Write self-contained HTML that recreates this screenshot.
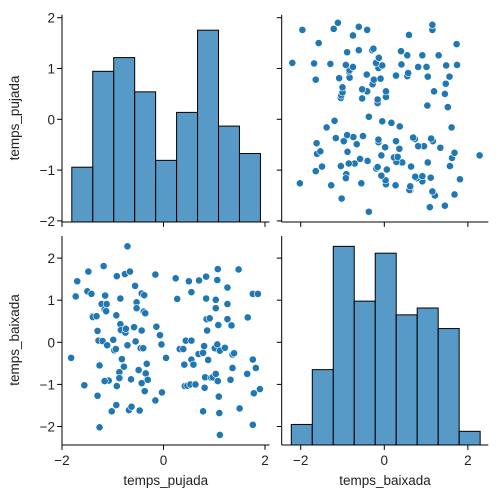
<!DOCTYPE html>
<html><head><meta charset="utf-8"><style>
body{margin:0;background:#fff}
svg{display:block;font-family:"Liberation Sans","DejaVu Sans",sans-serif}
</style></head><body>
<svg id="chart" width="500" height="500" viewBox="0 0 500 500" xmlns="http://www.w3.org/2000/svg"></svg>
<script>
// Data: pairs (temps_pujada, temps_baixada)
const pujada = [-1.82,-1.73,-1.70,-1.56,-1.48,-1.50,-1.42,-1.40,-1.39,-1.32,-1.30,-1.28,-1.26,-1.30,-1.26,-1.22,-1.20,-1.18,-1.15,-1.16,-1.13,-1.11,-1.12,-1.08,-1.16,-1.02,-0.99,-0.97,-0.93,-0.92,-0.92,-0.93,-0.94,-0.85,-0.85,-0.87,-0.87,-0.84,-0.82,-0.78,-0.76,-0.75,-0.74,-0.71,-0.71,-0.66,-0.68,-0.64,-0.63,-0.58,-0.56,-0.55,-0.53,-0.53,-0.47,-0.45,-0.49,-0.43,-0.43,-0.43,-0.38,-0.39,-0.40,-0.36,-0.37,-0.33,-0.35,-0.31,-0.16,-0.16,-0.14,-0.07,-0.04,-0.03,0.05,
0.24,0.27,0.32,0.39,0.41,0.42,0.44,0.47,0.50,0.53,0.55,0.55,0.55,0.59,0.63,0.70,0.69,0.78,0.80,0.82,0.78,0.81,0.84,0.84,0.85,0.86,0.88,0.91,0.94,0.97,1.03,1.03,1.01,1.06,1.06,1.03,1.07,1.07,1.08,1.09,1.10,1.11,1.11,1.21,1.26,1.26,1.26,1.32,1.34,1.36,1.36,1.39,1.48,1.50,1.65,1.66,1.76,1.76,1.76,1.78,1.82,1.86,1.90];
const baixada = [-0.37,1.09,1.45,-1.02,1.68,1.21,1.15,0.62,0.60,0.62,0.27,0.04,-0.55,-1.27,-2.02,0.91,0.03,1.81,1.11,0.78,0.74,-0.07,0.91,-0.91,-0.92,-1.64,0.06,-0.19,0.64,-1.04,1.57,-1.49,-0.16,1.04,0.43,-0.71,-0.85,0.29,-0.40,-0.58,1.62,0.23,0.32,-0.07,2.28,1.68,-1.61,-0.88,-1.53,0.36,1.34,0.02,0.95,0.81,-1.62,-0.14,-0.66,0.28,1.16,-0.97,1.12,0.73,-0.14,0.69,-1.16,-0.51,-0.74,-0.89,1.61,-1.38,0.37,0.17,-0.05,-1.19,-0.37,
1.52,1.03,-0.16,-0.16,-0.53,-1.04,0.04,-1.03,1.45,-1.00,1.19,-0.41,0.04,-0.53,-1.00,1.47,-0.28,-0.25,-0.09,-0.83,-1.64,-1.08,1.56,1.04,0.55,0.28,-0.42,0.57,-0.84,-0.83,1.01,0.81,-0.14,-0.05,1.48,-0.75,1.74,-0.92,0.41,-1.29,-1.68,-0.20,-2.20,-0.13,1.30,0.91,0.55,-0.89,0.40,-0.61,-0.29,-0.26,1.73,-1.57,-0.75,0.59,1.15,-0.41,-1.96,-1.21,-0.61,1.15,-1.11];
const pujadaCounts = [8,22,24,19,9,16,28,14,10];
const pujadaBinStart = -1.807, pujadaBinWidth = 0.413;
const baixadaCounts = [3,11,29,21,28,19,20,17,2];
const baixadaBinStart = -2.225, baixadaBinWidth = 0.502;
const pujadaTicks = [-2,-1,0,1,2];
const baixadaTicks = [-2,-1,0,1,2];
const xTicks = [-2,0,2];

const svg = document.getElementById('chart');
const NS = 'http://www.w3.org/2000/svg';
function mk(tag, attrs, parent){const e=document.createElementNS(NS,tag);for(const k in attrs)e.setAttribute(k,attrs[k]);(parent||svg).appendChild(e);return e;}

const xP = v => 163.5 + 50.75*v;
const yP = v => 119.3 - 50.8*v;
const xB = v => 384.3 + 41.8*v;
const yB = v => 342.3 - 42.1*v;
const cTop = c => 222 - 6.85*c;
const cBot = c => 445 - 6.85*c;

const L1=62,R1=269.5,L2=281.7,R2=488.3,T1=14.7,B1=222,T2=236,B2=445;

pujadaCounts.forEach((c,i)=>{
  const x0=xP(pujadaBinStart+i*pujadaBinWidth), x1=xP(pujadaBinStart+(i+1)*pujadaBinWidth);
  const r=mk('rect',{x:x0,y:cTop(c),width:x1-x0,height:B1-cTop(c),fill:'rgba(31,119,180,0.75)',stroke:'#000','stroke-width':1});
  
  
});
baixadaCounts.forEach((c,i)=>{
  const x0=xB(baixadaBinStart+i*baixadaBinWidth), x1=xB(baixadaBinStart+(i+1)*baixadaBinWidth);
  const r=mk('rect',{x:x0,y:cBot(c),width:x1-x0,height:B2-cBot(c),fill:'rgba(31,119,180,0.75)',stroke:'#000','stroke-width':1});
  
  
});

pujada.forEach((p,i)=>{
  const b=baixada[i];
  const c1=mk('circle',{cx:xB(b),cy:yP(p),r:3.6,fill:'#1f77b4',stroke:'#fff','stroke-width':0.6});
  
  
  const c2=mk('circle',{cx:xP(p),cy:yB(b),r:3.6,fill:'#1f77b4',stroke:'#fff','stroke-width':0.6});
  
  
});

function spines(l,r,t,b,name){
  const g=mk('g',{});
  
  
  mk('line',{x1:l,y1:t,x2:l,y2:b,stroke:'#000','stroke-width':1},g);
  mk('line',{x1:l,y1:b,x2:r,y2:b,stroke:'#000','stroke-width':1},g);
}
spines(L1,R1,T1,B1,'top-left-axes');
spines(L2,R2,T1,B1,'top-right-axes');
spines(L1,R1,T2,B2,'bottom-left-axes');
spines(L2,R2,T2,B2,'bottom-right-axes');

function txt(x,y,s,anchor,name,extra){
  const t=mk('text',Object.assign({x:x,y:y,'font-size':'13.5','text-anchor':anchor,fill:'#222'},extra||{}));
  t.textContent=s;
  
  
  return t;
}
const fmt = v => v<0 ? '\u2212'+Math.abs(v) : String(v);

pujadaTicks.forEach(v=>{
  mk('line',{x1:L1-4.9,y1:yP(v),x2:L1,y2:yP(v),stroke:'#000'});
  mk('line',{x1:L2-4.9,y1:yP(v),x2:L2,y2:yP(v),stroke:'#000'});
  txt(L1-7,yP(v)+5,fmt(v),'end','y-tick-label-pujada');
});
baixadaTicks.forEach(v=>{
  mk('line',{x1:L1-4.9,y1:yB(v),x2:L1,y2:yB(v),stroke:'#000'});
  mk('line',{x1:L2-4.9,y1:yB(v),x2:L2,y2:yB(v),stroke:'#000'});
  txt(L1-7,yB(v)+5,fmt(v),'end','y-tick-label-baixada');
});
xTicks.forEach(v=>{
  mk('line',{x1:xP(v),y1:B1,x2:xP(v),y2:B1+4.9,stroke:'#000'});
  mk('line',{x1:xB(v),y1:B1,x2:xB(v),y2:B1+4.9,stroke:'#000'});
  mk('line',{x1:xP(v),y1:B2,x2:xP(v),y2:B2+4.9,stroke:'#000'});
  mk('line',{x1:xB(v),y1:B2,x2:xB(v),y2:B2+4.9,stroke:'#000'});
  txt(xP(v),B2+20,fmt(v),'middle','x-tick-label-pujada');
  txt(xB(v),B2+20,fmt(v),'middle','x-tick-label-baixada');
});

txt((L1+R1)/2,B2+40,'temps_pujada','middle','x-axis-title-pujada');
txt((L2+R2)/2,B2+40,'temps_baixada','middle','x-axis-title-baixada');
txt(0,0,'temps_pujada','middle','y-axis-title-pujada',{transform:'translate(19,118) rotate(-90)'});
txt(0,0,'temps_baixada','middle','y-axis-title-baixada',{transform:'translate(19,340) rotate(-90)'});
</script>
</body></html>
